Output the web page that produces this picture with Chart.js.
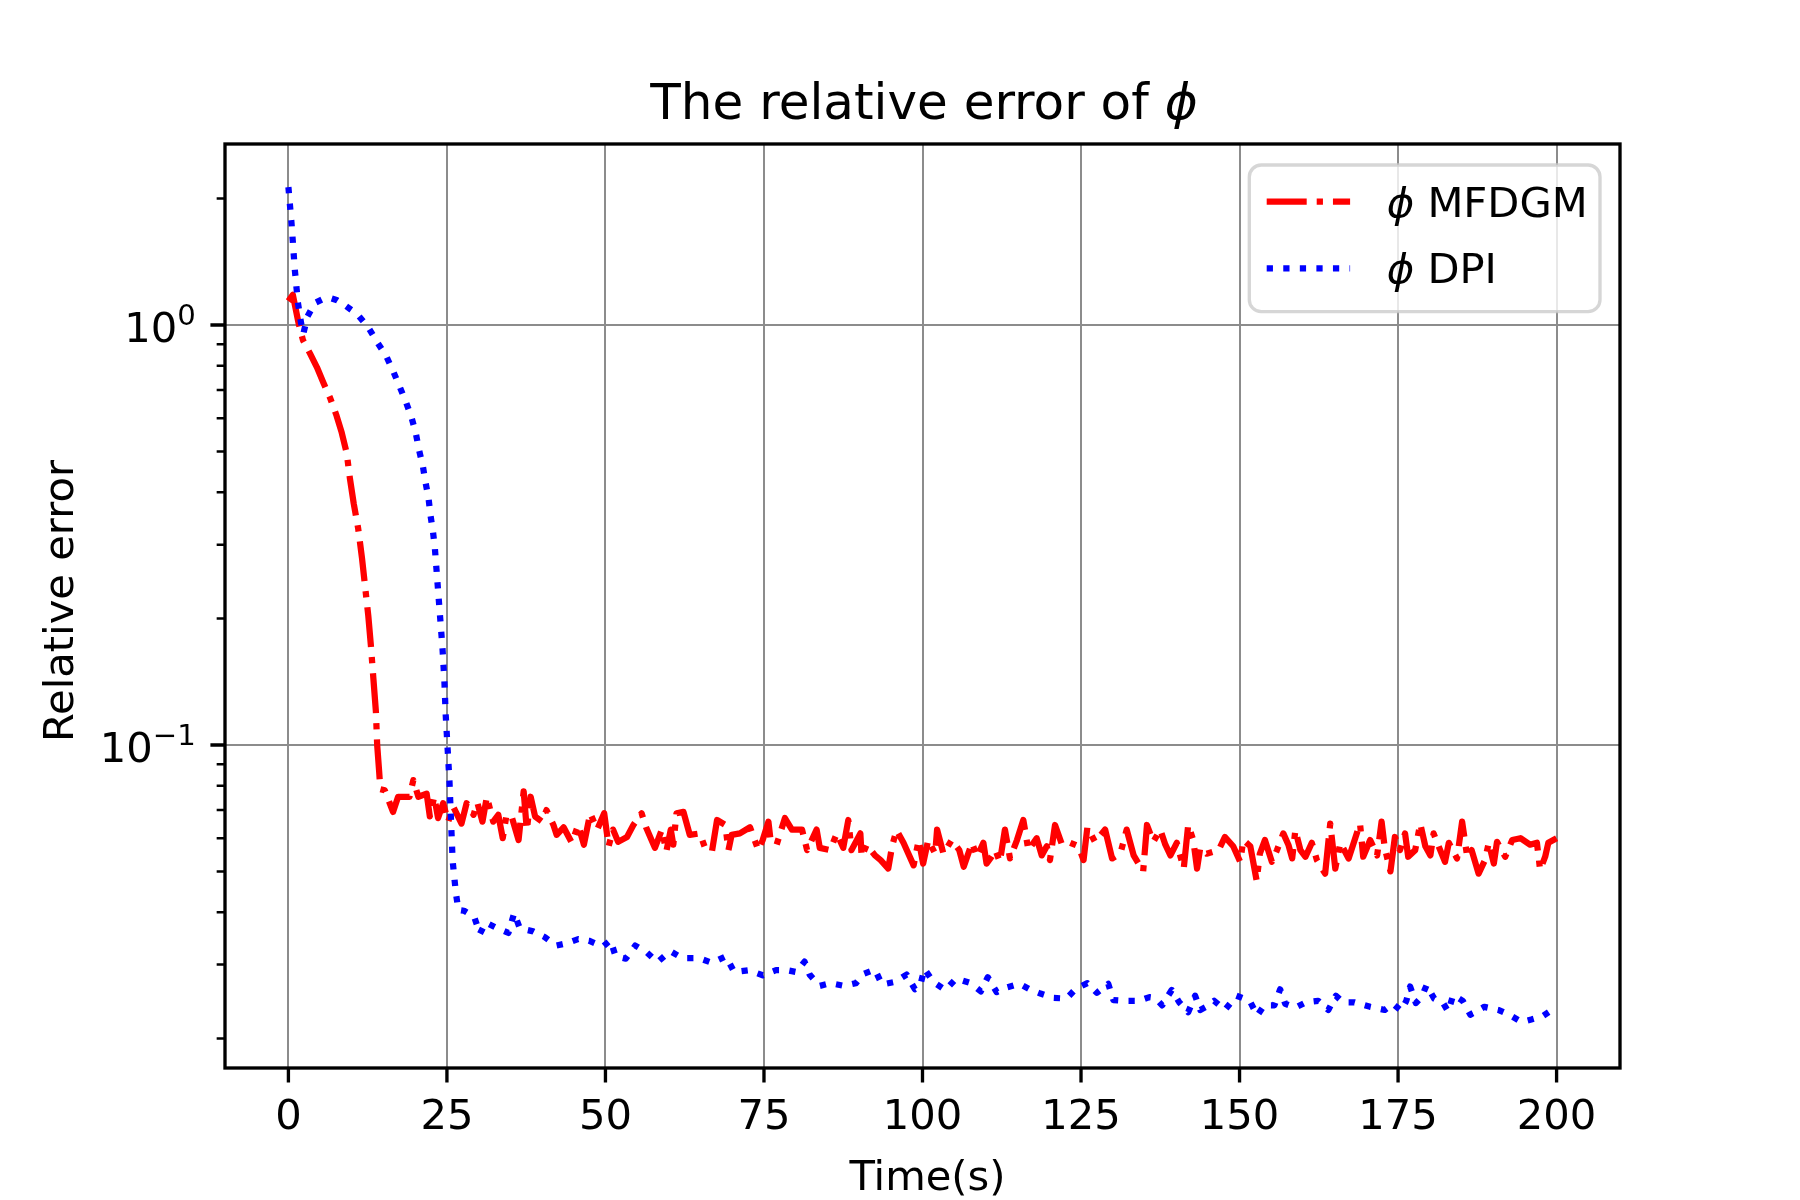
<!DOCTYPE html>
<html>
<head>
<meta charset="utf-8">
<title>The relative error of phi</title>
<script src="https://cdn.jsdelivr.net/npm/chart.js@4.4.1/dist/chart.umd.min.js"></script>
<style>
    html, body { margin: 0; padding: 0; background: #ffffff; }
    #errorChart { display: block; }
</style>
</head>
<body>
<canvas id="errorChart" width="1800" height="1200"></canvas>
<script>
// ---------------- data ----------------
var timeTicks = [0, 25, 50, 75, 100, 125, 150, 175, 200];
var errorMajorTicks = [1, 0.1];
var errorMajorExp = ['0', '\u22121'];
var errorMinorTicks = [0.02, 0.03, 0.04, 0.05, 0.06, 0.07, 0.08, 0.09,
                       0.2, 0.3, 0.4, 0.5, 0.6, 0.7, 0.8, 0.9, 2];
var seriesLabels = ['MFDGM', 'DPI'];

// phi MFDGM (red, dash-dot)
var mfdgmTime = [
    0, 0.7, 1.6, 2.3, 3.4, 4.5, 5.5, 6.6, 7.6, 8.4,
    9.2, 9.7, 10.3, 11.0, 11.6, 12.1, 12.6, 13.0, 13.4, 13.8,
    14.0, 14.3, 14.5, 15.2, 16.5, 17.3, 19.1, 19.7, 20.5, 21.8,
    22.3, 23.0, 23.6, 24.4, 25.2, 26.0, 27.3, 28.1, 29.2, 29.8,
    30.6, 31.3, 32.3, 33.1, 33.8, 34.4, 35.2, 36.3, 37.1, 37.6,
    38.2, 38.9, 40.0, 40.7, 41.8, 42.3, 43.4, 44.7, 45.7, 46.6,
    47.6, 48.7, 49.8, 50.5, 51.2, 52.0, 53.4, 54.4, 55.7, 56.4,
    57.8, 58.9, 59.6, 60.3, 60.7, 61.2, 62.3, 63.3, 64.9, 65.7,
    66.8, 67.6, 68.9, 69.4, 69.9, 71.2, 72.8, 74.1, 74.8, 75.7,
    76.0, 77.0, 78.3, 79.4, 81.0, 81.8, 83.3, 83.8, 85.4, 86.5,
    87.5, 88.3, 88.8, 90.2, 90.4, 91.2, 92.5, 93.4, 94.6, 95.2,
    95.9, 97.0, 98.6, 99.4, 100.1, 100.9, 102.0, 102.3, 103.3, 104.6,
    105.8, 106.5, 107.8, 108.6, 109.6, 110.1, 110.9, 111.5, 112.2, 113.0,
    113.8, 114.9, 115.9, 116.7, 118.0, 118.8, 119.6, 120.1, 120.9, 122.0,
    123.3, 124.6, 125.4, 126.0, 127.2, 128.8, 129.9, 131.2, 132.2, 133.3,
    134.8, 135.4, 136.4, 137.5, 138.3, 139.1, 140.1, 141.2, 141.9, 142.7,
    143.3, 143.8, 144.8, 146.7, 147.7, 149.0, 150.1, 150.6, 151.7, 152.7,
    153.2, 154.0, 155.1, 155.9, 156.9, 157.7, 158.3, 158.8, 159.6, 160.4,
    161.4, 162.2, 163.5, 164.3, 165.1, 165.9, 167.2, 169.0, 169.5, 170.6,
    171.7, 172.4, 172.9, 173.8, 174.5, 175.3, 176.1, 176.6, 177.7, 178.5,
    179.3, 180.1, 180.6, 181.4, 182.4, 183.0, 184.3, 185.1, 185.9, 186.6,
    187.7, 188.7, 189.3, 190.1, 190.6, 191.9, 193.0, 194.3, 195.8, 196.9,
    197.4, 198.2, 198.7, 200.0
];
var mfdgmError = [
    1.14, 1.18, 1.01, 0.92, 0.856, 0.793, 0.73, 0.669, 0.608, 0.555,
    0.495, 0.431, 0.376, 0.328, 0.279, 0.238, 0.203, 0.173, 0.144, 0.12,
    0.1, 0.087, 0.0785, 0.078, 0.0693, 0.0753, 0.0753, 0.0825, 0.0753, 0.0766,
    0.0676, 0.0753, 0.067, 0.0727, 0.0657, 0.0713, 0.065, 0.0727, 0.0682, 0.0729,
    0.0657, 0.0753, 0.0657, 0.0682, 0.060, 0.0682, 0.0676, 0.0594, 0.0776, 0.0627,
    0.0753, 0.0676, 0.0657, 0.07, 0.0645, 0.0611, 0.0637, 0.0585, 0.0645, 0.0579,
    0.0688, 0.0629, 0.0688, 0.0574, 0.0629, 0.0588, 0.0604, 0.0645, 0.0688, 0.0637,
    0.0569, 0.0629, 0.0558, 0.0629, 0.0579, 0.0688, 0.0693, 0.0611, 0.0616, 0.0569,
    0.0558, 0.0663, 0.0645, 0.0562, 0.0611, 0.0616, 0.0637, 0.0562, 0.0594, 0.0657,
    0.06, 0.0579, 0.067, 0.0629, 0.0629, 0.0562, 0.0629, 0.0569, 0.0562, 0.0616,
    0.0569, 0.0663, 0.0562, 0.0616, 0.0542, 0.0579, 0.0546, 0.0532, 0.0508, 0.0574,
    0.0627, 0.0585, 0.0517, 0.0594, 0.0522, 0.0594, 0.0551, 0.0629, 0.0551, 0.0594,
    0.0562, 0.0513, 0.0585, 0.0542, 0.0585, 0.0522, 0.0542, 0.0562, 0.0527, 0.0629,
    0.0537, 0.0594, 0.0663, 0.0562, 0.060, 0.0546, 0.0574, 0.0532, 0.0645, 0.0579,
    0.0585, 0.0574, 0.0532, 0.0637, 0.0588, 0.0629, 0.0537, 0.0551, 0.0629, 0.0546,
    0.0500, 0.0645, 0.0588, 0.0629, 0.0579, 0.0546, 0.0585, 0.0508, 0.0645, 0.0594,
    0.0508, 0.0569, 0.0551, 0.0562, 0.0604, 0.0574, 0.0527, 0.0594, 0.0574, 0.0475,
    0.0551, 0.0594, 0.0527, 0.0562, 0.0616, 0.0579, 0.0537, 0.0627, 0.0562, 0.0542,
    0.0585, 0.0532, 0.0494, 0.065, 0.0508, 0.0585, 0.0537, 0.065, 0.0542, 0.0594,
    0.0546, 0.0657, 0.0569, 0.05, 0.0604, 0.0562, 0.0616, 0.0542, 0.0562, 0.065,
    0.0574, 0.0546, 0.0616, 0.0574, 0.0527, 0.0585, 0.0537, 0.0657, 0.0542, 0.0562,
    0.0494, 0.0532, 0.0585, 0.0522, 0.0588, 0.0542, 0.0594, 0.060, 0.0579, 0.0585,
    0.0504, 0.0542, 0.0585, 0.060
];

// phi DPI (blue, dotted)
var dpiTime = [
    0, 0.5, 1, 1.5, 2, 2.35, 3.0, 4.15, 5.3, 6.5,
    7.7, 8.8, 10.9, 12.6, 14.0, 15.4, 16.5, 17.5, 18.5, 19.4,
    20.1, 20.6, 21.2, 21.6, 22.1, 22.4, 22.8, 23.1, 23.5, 23.9,
    24.3, 24.6, 24.8, 25.1, 25.4, 25.6, 25.9, 26.4, 26.8, 27.7,
    29.3, 30.2, 31.1, 32.8, 34.7, 35.6, 36.5, 38.6, 40.4, 42.2,
    43.8, 45.7, 47.4, 49.6, 50.8, 51.6, 53.2, 54.7, 56.5, 58.2,
    60.2, 62.1, 64.7, 66.8, 69.0, 70.3, 72.6, 74.8, 76.9, 78.6,
    80.1, 81.4, 82.2, 83.8, 85.5, 87.6, 89.5, 90.7, 92.5, 93.6,
    95.7, 97.5, 98.8, 99.6, 100.3, 101.7, 103.6, 105.3, 107.6, 109.2,
    110.3, 111.7, 113.4, 115.3, 116.9, 118.6, 120.6, 122.7, 124.2, 126.0,
    127.5, 129.3, 130.1, 131.8, 134.1, 135.8, 136.7, 137.8, 139.3, 140.5,
    141.9, 143.0, 143.8, 144.7, 146.0, 147.7, 149.5, 151.6, 152.8, 153.9,
    155.5, 156.4, 157.2, 158.8, 160.5, 162.4, 164.0, 165.2, 166.3, 168.1,
    170.6, 172.9, 174.2, 175.5, 176.3, 176.9, 177.8, 178.7, 179.5, 180.7,
    182.1, 182.9, 183.7, 185.2, 186.4, 188.6, 190.8, 192.5, 194.5, 196.0,
    197.8, 200.0
];
var dpiError = [
    2.13, 1.74, 1.36, 1.13, 1.01, 0.953, 1.047, 1.128, 1.15, 1.161,
    1.145, 1.118, 1.06, 0.987, 0.91, 0.845, 0.778, 0.716, 0.658, 0.604,
    0.552, 0.504, 0.462, 0.424, 0.387, 0.353, 0.322, 0.294, 0.245, 0.204,
    0.17, 0.142, 0.1185, 0.0986, 0.082, 0.0685, 0.053, 0.0446, 0.0405, 0.0403,
    0.039, 0.0355, 0.0378, 0.0367, 0.0357, 0.0398, 0.0366, 0.036, 0.0349, 0.0333,
    0.0337, 0.0345, 0.0342, 0.0331, 0.0343, 0.0314, 0.031, 0.0333, 0.0321, 0.0304,
    0.0323, 0.0311, 0.0311, 0.0303, 0.0314, 0.0288, 0.0291, 0.0283, 0.0291, 0.0291,
    0.0288, 0.0305, 0.0284, 0.0267, 0.0271, 0.0267, 0.0271, 0.0285, 0.0292, 0.0269,
    0.0273, 0.0284, 0.0262, 0.0266, 0.0293, 0.0273, 0.0261, 0.0278, 0.0271, 0.0259,
    0.0280, 0.0258, 0.0265, 0.027, 0.0262, 0.0256, 0.025, 0.0249, 0.0263, 0.0271,
    0.0257, 0.027, 0.0247, 0.0246, 0.0246, 0.0251, 0.025, 0.024, 0.0261, 0.0244,
    0.0231, 0.0253, 0.0234, 0.0238, 0.0246, 0.0234, 0.0253, 0.0246, 0.0227, 0.024,
    0.024, 0.0262, 0.0242, 0.0237, 0.0244, 0.0246, 0.0234, 0.0253, 0.0244, 0.0244,
    0.0238, 0.0234, 0.0242, 0.0233, 0.0246, 0.0266, 0.0243, 0.0251, 0.0268, 0.0249,
    0.0243, 0.0232, 0.0254, 0.0246, 0.0228, 0.0238, 0.0234, 0.0228, 0.0219, 0.0222,
    0.0226, 0.0238
];

// ---------------- styles ----------------
var PT = 300 / 72;              // the figure was saved at 300 dpi
var LW = 1.5 * PT;              // matplotlib default line width
var FONT = '"DejaVu Sans"';
var fontSize = 10 * PT;
var titleSize = 12 * PT;
var gridColor = '#8c8c8c';
var titleCenterX = 924;
var xLabelCenterX = 927.5;

function toPoints(xs, ys) {
    var pts = [];
    for (var i = 0; i < xs.length; i++) {
        pts.push({ x: xs[i], y: ys[i] });
    }
    return pts;
}

// draws "normal text" + italic phi pieces left to right
function drawRuns(ctx, runs, x, y, size) {
    for (var i = 0; i < runs.length; i++) {
        ctx.font = (runs[i].italic ? 'italic ' : '') + size + 'px ' + FONT;
        ctx.fillText(runs[i].text, x, y);
        x += ctx.measureText(runs[i].text).width;
    }
}
function runsWidth(ctx, runs, size) {
    var w = 0;
    for (var i = 0; i < runs.length; i++) {
        ctx.font = (runs[i].italic ? 'italic ' : '') + size + 'px ' + FONT;
        w += ctx.measureText(runs[i].text).width;
    }
    return w;
}

var decorPlugin = {
    id: 'decor',
    afterDatasetsDraw: function (chart) {
        var ctx = chart.ctx, area = chart.chartArea;
        var xs = chart.scales.x, ys = chart.scales.y;
        ctx.save();
        ctx.strokeStyle = '#000000';
        ctx.lineCap = 'butt';

        // spines
        ctx.lineWidth = 0.8 * PT;
        ctx.strokeRect(area.left, area.top, area.right - area.left, area.bottom - area.top);

        // major ticks
        ctx.beginPath();
        timeTicks.forEach(function (t) {
            var px = xs.getPixelForValue(t);
            ctx.moveTo(px, area.bottom);
            ctx.lineTo(px, area.bottom + 3.5 * PT);
        });
        errorMajorTicks.forEach(function (v) {
            var py = ys.getPixelForValue(v);
            ctx.moveTo(area.left, py);
            ctx.lineTo(area.left - 3.5 * PT, py);
        });
        ctx.stroke();

        // minor ticks on the log axis
        ctx.lineWidth = 0.6 * PT;
        ctx.beginPath();
        errorMinorTicks.forEach(function (v) {
            var py = ys.getPixelForValue(v);
            ctx.moveTo(area.left, py);
            ctx.lineTo(area.left - 2 * PT, py);
        });
        ctx.stroke();
        ctx.restore();
    },
    afterDraw: function (chart) {
        var ctx = chart.ctx, area = chart.chartArea;
        var xs = chart.scales.x, ys = chart.scales.y;
        ctx.save();
        ctx.fillStyle = '#000000';
        ctx.textBaseline = 'alphabetic';

        // x tick labels
        ctx.font = fontSize + 'px ' + FONT;
        ctx.textAlign = 'center';
        var xLabelBase = area.bottom + 7 * PT + 0.76 * fontSize;
        timeTicks.forEach(function (t) {
            ctx.fillText(String(t), xs.getPixelForValue(t), xLabelBase);
        });

        // y tick labels, 10 with a raised exponent
        ctx.textAlign = 'left';
        var supSize = fontSize * 0.7;
        var rightEdge = area.left - 7 * PT;
        errorMajorTicks.forEach(function (v, i) {
            var py = ys.getPixelForValue(v) + 16.5;
            ctx.font = supSize + 'px ' + FONT;
            var ws = ctx.measureText(errorMajorExp[i]).width;
            ctx.fillText(errorMajorExp[i], rightEdge - ws, py - 0.4 * fontSize);
            ctx.font = fontSize + 'px ' + FONT;
            var wm = ctx.measureText('10').width;
            ctx.fillText('10', rightEdge - ws - wm, py);
        });

        // axis labels
        ctx.font = fontSize + 'px ' + FONT;
        ctx.textAlign = 'center';
        ctx.fillText('Time(s)', xLabelCenterX, 1190);
        ctx.save();
        ctx.translate(73.3, 601);
        ctx.rotate(-Math.PI / 2);
        ctx.fillText('Relative error', 0, 0);
        ctx.restore();

        // title
        ctx.textAlign = 'left';
        var titleRuns = [{ text: 'The relative error of ' }, { text: '\u03d5', italic: true }];
        var tw = runsWidth(ctx, titleRuns, titleSize);
        drawRuns(ctx, titleRuns, titleCenterX - tw / 2, area.top - 6 * PT, titleSize);

        // legend
        var lx = 1249.3, ly = 165, lw = 350.7, lh = 146.7;
        ctx.beginPath();
        ctx.roundRect(lx, ly, lw, lh, 12);
        ctx.fillStyle = 'rgba(255,255,255,0.8)';
        ctx.fill();
        ctx.lineWidth = 0.8 * PT;
        ctx.strokeStyle = 'rgba(204,204,204,0.8)';
        ctx.stroke();

        var rows = [
            { y: 201.7, color: '#ff0000', dash: [6.4 * LW, 1.6 * LW, 1.0 * LW, 1.6 * LW], label: seriesLabels[0] },
            { y: 268.3, color: '#0000ff', dash: [1.0 * LW, 1.65 * LW], label: seriesLabels[1] }
        ];
        rows.forEach(function (row) {
            ctx.beginPath();
            ctx.setLineDash(row.dash);
            ctx.lineCap = 'butt';
            ctx.lineWidth = LW;
            ctx.strokeStyle = row.color;
            ctx.moveTo(1266.7, row.y);
            ctx.lineTo(1350.1, row.y);
            ctx.stroke();
            ctx.setLineDash([]);
            ctx.fillStyle = '#000000';
            drawRuns(ctx, [{ text: '\u03d5', italic: true }, { text: ' ' + row.label }],
                     1386.7, row.y + 15, fontSize);
        });
        ctx.restore();
    }
};

// ---------------- chart ----------------
var errorChart = new Chart(document.getElementById('errorChart'), {
    type: 'line',
    data: {
        datasets: [{
            label: seriesLabels[0],
            data: toPoints(mfdgmTime, mfdgmError),
            borderColor: '#ff0000',
            borderWidth: LW,
            borderDash: [6.4 * LW, 1.6 * LW, 1.0 * LW, 1.6 * LW],
            borderCapStyle: 'butt',
            borderJoinStyle: 'round',
            pointRadius: 0,
            fill: false,
            tension: 0,
            order: 2
        }, {
            label: seriesLabels[1],
            data: toPoints(dpiTime, dpiError),
            borderColor: '#0000ff',
            borderWidth: LW,
            borderDash: [1.0 * LW, 1.65 * LW],
            borderCapStyle: 'butt',
            borderJoinStyle: 'round',
            pointRadius: 0,
            fill: false,
            tension: 0,
            order: 1
        }]
    },
    options: {
        responsive: false,
        devicePixelRatio: 1,
        animation: false,
        events: [],
        layout: { padding: { left: 0, top: 144, right: 180, bottom: 0 } },
        plugins: {
            legend: { display: false },
            title: { display: false },
            tooltip: { enabled: false }
        },
        scales: {
            x: {
                type: 'linear',
                min: -10,
                max: 210,
                afterBuildTicks: function (scale) {
                    scale.ticks = timeTicks.map(function (v) { return { value: v }; });
                },
                afterFit: function (scale) { scale.height = 132; },
                ticks: { display: false },
                grid: { color: gridColor, lineWidth: 2, drawTicks: false },
                border: { display: false }
            },
            y: {
                type: 'logarithmic',
                min: 0.01702,
                max: 2.698,
                afterBuildTicks: function (scale) {
                    scale.ticks = errorMajorTicks.concat(errorMinorTicks).map(function (v) { return { value: v }; });
                },
                afterFit: function (scale) { scale.width = 225; },
                ticks: { display: false },
                grid: {
                    color: function (c) {
                        return c.tick && errorMajorTicks.indexOf(c.tick.value) >= 0 ? gridColor : 'rgba(0,0,0,0)';
                    },
                    lineWidth: 2,
                    drawTicks: false
                },
                border: { display: false }
            }
        }
    },
    plugins: [decorPlugin]
});
</script>
</body>
</html>
